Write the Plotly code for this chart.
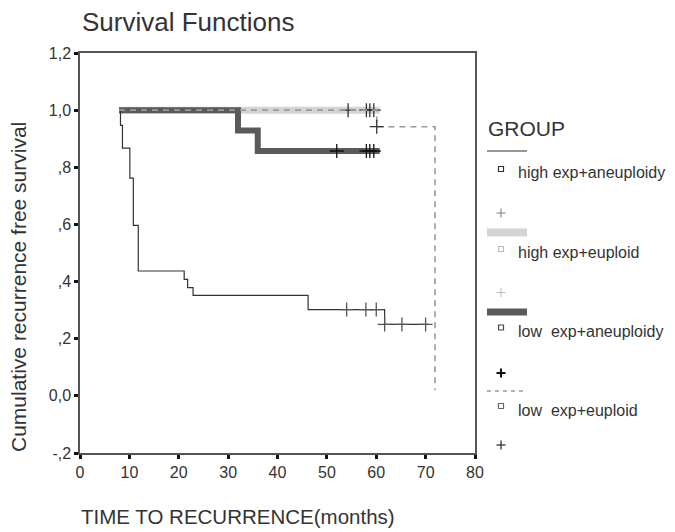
import plotly.graph_objects as go

# ---------------- data ----------------
group_names = ["high exp+aneuploidy", "high exp+euploid", "low  exp+aneuploidy", "low  exp+euploid"]

# step curves: event times and survival value after each time; last time = end of curve
g1_times = [7.9, 8.2, 8.6, 10.1, 10.8, 11.8, 21.1, 21.8, 22.9, 46.2, 61.7]
g1_surv = [1.0, 0.947, 0.867, 0.762, 0.597, 0.437, 0.408, 0.379, 0.352, 0.302, 0.250]
g1_end = 70.7
g1_censor = [54.0, 57.9, 60.0, 61.7, 65.2, 70.0]

g2_times = [7.9]
g2_surv = [1.0]
g2_end = 60.7
g2_censor = [54.3, 58.0, 58.7, 59.5]

g3_times = [7.9, 32.0, 36.0]
g3_surv = [1.0, 0.929, 0.857]
g3_end = 60.7
g3_censor = [52.0, 58.0, 58.7, 59.5]

g4_times = [7.9, 60.1, 71.9]
g4_surv = [1.0, 0.942, 0.02]
g4_end = 71.9
g4_censor = [60.1]

x_ticks = [0, 10, 20, 30, 40, 50, 60, 70, 80]
y_ticks = [-0.2, 0.0, 0.2, 0.4, 0.6, 0.8, 1.0, 1.2]
y_ticktext = ["-,2", "0,0", ",2", ",4", ",6", ",8", "1,0", "1,2"]


def step_xy(times, surv, end):
    xs = list(times) + [end]
    ys = list(surv) + [surv[-1]]
    return xs, ys


def surv_at(times, surv, t):
    v = surv[0]
    for ti, si in zip(times, surv):
        if ti <= t:
            v = si
    return v


FONT = "Liberation Sans, Arial, sans-serif"
TXT = "#333333"

fig = go.Figure()

styles = [
    dict(times=g2_times, surv=g2_surv, end=g2_end, cens=g2_censor,
         line=dict(color="#d4d4d4", width=7), mcol="#333333"),
    dict(times=g3_times, surv=g3_surv, end=g3_end, cens=g3_censor,
         line=dict(color="#5a5a5a", width=6), mcol="#111111"),
    dict(times=g1_times, surv=g1_surv, end=g1_end, cens=g1_censor,
         line=dict(color="#333333", width=1.2), mcol="#555555"),
    dict(times=g4_times, surv=g4_surv, end=g4_end, cens=g4_censor,
         line=dict(color="#9a9a9a", width=1.6, dash="6px,5px"), mcol="#333333"),
]

for s in styles:
    xs, ys = step_xy(s["times"], s["surv"], s["end"])
    fig.add_trace(go.Scatter(x=xs, y=ys, mode="lines", line_shape="hv",
                             line=s["line"], hoverinfo="skip", showlegend=False))
    cy = [surv_at(s["times"], s["surv"], t) for t in s["cens"]]
    fig.add_trace(go.Scatter(x=s["cens"], y=cy, mode="markers",
                             marker=dict(symbol="cross-thin", size=10,
                                         line=dict(color=s["mcol"], width=1.3)),
                             hoverinfo="skip", showlegend=False))

# ---------------- layout ----------------
OFF = 8  # page body margin
W, H = 667, 524
L, T = 72, 45
PW, PH = 395, 400
R = W - L - PW
B = H - T - PH


def px(xp):  # page pixel -> paper x
    return (xp - OFF - L) / PW


def py(yp):  # page pixel -> paper y
    return (T + PH - (yp - OFF)) / PH


shapes = []
annotations = []

# legend title
annotations.append(dict(x=px(486), y=py(129), xref="paper", yref="paper", text="GROUP",
                        showarrow=False, xanchor="left", yanchor="middle",
                        font=dict(family=FONT, size=21, color=TXT)))

leg_rows = [
    dict(line=dict(color="#333333", width=1.2), ly=151, sq=169, ty=172, py_=213,
         sqcol="#333333", pcol="#777777", pw=1.0),
    dict(line=dict(color="#d4d4d4", width=8), ly=232.5, sq=249, ty=252, py_=292.5,
         sqcol="#bbbbbb", pcol="#bbbbbb", pw=1.0),
    dict(line=dict(color="#5a5a5a", width=7), ly=312, sq=327.5, ty=331, py_=373,
         sqcol="#444444", pcol="#111111", pw=2.0),
    dict(line=dict(color="#9a9a9a", width=1.4, dash="4px,4px"), ly=391, sq=406, ty=410, py_=445,
         sqcol="#666666", pcol="#333333", pw=1.3),
]

for name, r in zip(group_names, leg_rows):
    shapes.append(dict(type="line", xref="paper", yref="paper",
                       x0=px(487), x1=px(527), y0=py(r["ly"]), y1=py(r["ly"]),
                       line=r["line"]))
    shapes.append(dict(type="rect", xref="paper", yref="paper",
                       x0=px(498.5), x1=px(503.5), y0=py(r["sq"] + 2.5), y1=py(r["sq"] - 2.5),
                       line=dict(color=r["sqcol"], width=1.2), fillcolor="white"))
    annotations.append(dict(x=px(516), y=py(r["ty"]), xref="paper", yref="paper", text=name,
                            showarrow=False, xanchor="left", yanchor="middle",
                            font=dict(family=FONT, size=16, color=TXT)))
    # plus symbol
    shapes.append(dict(type="line", xref="paper", yref="paper",
                       x0=px(496.5), x1=px(505.5), y0=py(r["py_"]), y1=py(r["py_"]),
                       line=dict(color=r["pcol"], width=r["pw"])))
    shapes.append(dict(type="line", xref="paper", yref="paper",
                       x0=px(501), x1=px(501), y0=py(r["py_"] - 4.5), y1=py(r["py_"] + 4.5),
                       line=dict(color=r["pcol"], width=r["pw"])))

# axis titles as annotations
annotations.append(dict(x=px(79), y=py(517), xref="paper", yref="paper",
                        text="TIME TO RECURRENCE(months)", showarrow=False,
                        xanchor="left", yanchor="middle",
                        font=dict(family=FONT, size=20.5, color=TXT)))
annotations.append(dict(x=px(18), y=py(287), xref="paper", yref="paper",
                        text="Cumulative recurrence free survival", showarrow=False,
                        textangle=-90, xanchor="center", yanchor="middle",
                        font=dict(family=FONT, size=21, color=TXT)))

# chart title as annotation, kept inside the figure
annotations.append(dict(x=px(80), y=py(22), xref="paper", yref="paper",
                        text="Survival Functions", showarrow=False,
                        xanchor="left", yanchor="middle",
                        font=dict(family=FONT, size=26, color=TXT)))

fig.update_layout(
    width=W, height=H,
    margin=dict(l=L, r=R, t=T, b=B),
    paper_bgcolor="white", plot_bgcolor="white",
    xaxis=dict(range=[0, 80], tickvals=x_ticks, ticks="outside", ticklen=4, tickwidth=3,
               tickcolor="#111111", showgrid=False, zeroline=False,
               showline=True, linecolor="#555555", linewidth=1.5, mirror=True,
               tickfont=dict(family=FONT, size=16, color=TXT)),
    yaxis=dict(range=[-0.2, 1.2], tickvals=y_ticks, ticktext=y_ticktext, ticks="outside",
               ticklen=4, tickwidth=3, tickcolor="#111111", showgrid=False, zeroline=False,
               showline=True, linecolor="#555555", linewidth=1.5, mirror=True,
               tickfont=dict(family=FONT, size=16, color=TXT)),
    shapes=shapes, annotations=annotations,
)

fig.write_html("out.html")
